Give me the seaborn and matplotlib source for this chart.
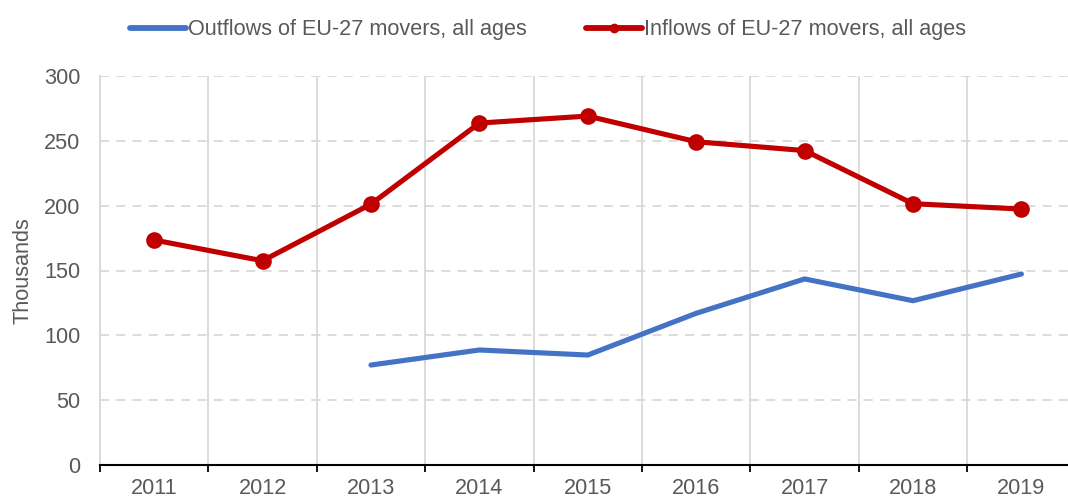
import matplotlib
matplotlib.use("Agg")
import matplotlib.pyplot as plt
from matplotlib.lines import Line2D
from matplotlib.ticker import MultipleLocator, FixedLocator
import numpy as np
import pandas as pd
import seaborn as sns

years = [2011, 2012, 2013, 2014, 2015, 2016, 2017, 2018, 2019]
inflows = [173.5, 157.5, 201.2, 263.7, 269.1, 249.3, 242.5, 201.5, 197.4]
outflows = [np.nan, np.nan, 77.1, 88.7, 84.8, 117.0, 143.5, 126.7, 147.3]

series_out = "Outflows of EU-27 movers, all ages"
series_in = "Inflows of EU-27 movers, all ages"

blue = "#4472C4"
red = "#C00000"
grey_text = "#595959"
fs = 15.6

sns.set_theme(style="white")
plt.rcParams["font.family"] = ["Liberation Sans", "DejaVu Sans"]

df = pd.DataFrame({"year": years, "Outflows": outflows, "Inflows": inflows})

fig = plt.figure(figsize=(10.68, 4.99), dpi=100)
ax = fig.add_axes([100 / 1068, 34 / 499, 968 / 1068, 389 / 499])

sns.lineplot(data=df, x="year", y="Outflows", ax=ax, color=blue, linewidth=3.7, zorder=3)
sns.lineplot(data=df, x="year", y="Inflows", ax=ax, color=red, linewidth=3.7,
             marker="o", markersize=12, markeredgewidth=0, zorder=4)

ax.set_xlim(2010.5, 2010.5 + 968 / 108.4)
ax.set_ylim(0, 300)

# y axis
ax.yaxis.set_major_locator(MultipleLocator(50))
ax.tick_params(axis="y", length=0, labelsize=fs, labelcolor=grey_text, pad=14)
ax.grid(axis="y", color="#D9D9D9", linestyle=(0, (5, 4)), linewidth=1.3)

# x axis: labels at category centres, ticks and gridlines between categories
ax.xaxis.set_major_locator(FixedLocator(years))
ax.set_xticklabels([str(y) for y in years])
ax.xaxis.set_minor_locator(FixedLocator([y - 0.5 for y in years]))
ax.tick_params(axis="x", which="major", length=0, labelsize=fs, labelcolor=grey_text, pad=9)
ax.tick_params(axis="x", which="minor", bottom=True, length=5, width=1.3, color="black", direction="out")
ax.grid(axis="x", which="minor", color="#D9D9D9", linestyle="-", linewidth=1.3)
ax.grid(axis="x", which="major", visible=False)

ax.set_xlabel("")
ax.set_ylabel("Thousands", fontsize=fs, color=grey_text, labelpad=8)

for side in ["top", "right"]:
    ax.spines[side].set_visible(False)
ax.spines["left"].set_color("#D9D9D9")
ax.spines["left"].set_linewidth(1.3)
ax.spines["bottom"].set_color("black")
ax.spines["bottom"].set_linewidth(1.5)

handles = [
    Line2D([], [], color=blue, linewidth=4.2),
    Line2D([], [], color=red, linewidth=4.2, marker="o", markersize=7, markeredgewidth=0),
]
fig.legend(handles, [series_out, series_in], loc="center", bbox_to_anchor=(0.513, 0.94),
           ncol=2, frameon=False, fontsize=fs, labelcolor=grey_text,
           handlelength=2.6, handletextpad=0.1, columnspacing=2.7)

fig.savefig("out.png", dpi=100)
